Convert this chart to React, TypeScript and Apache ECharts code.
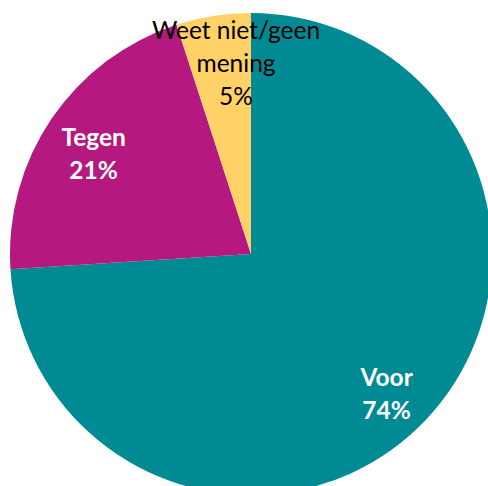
import React, { useEffect, useRef } from "react";
import * as echarts from "echarts";

const categories = ["Voor", "Tegen", "Weet niet/geen\nmening"];
const values = [74, 21, 5];
const colors = ["#008B94", "#B5197F", "#FFD166"];

export default function App() {
  const ref = useRef<HTMLDivElement>(null);
  useEffect(() => {
    if (!ref.current) return;
    const chart = echarts.init(ref.current, undefined, { renderer: "svg" });
    const data = categories.map((name, i) => ({
      name,
      value: values[i],
      itemStyle: { color: colors[i] },
    }));
    const labelData = categories.map((name, i) => ({
      name,
      value: values[i],
      label:
        i === 2
          ? { color: "#000000", fontWeight: "normal" as const }
          : { color: "#ffffff", fontWeight: "bold" as const },
    }));
    const offsets = [
      [-4, 8],
      [1, 7],
      [15, -2],
    ];
    chart.setOption({
      animation: false,
      series: [
        {
          type: "pie",
          center: [251, 254],
          radius: [0, 241],
          startAngle: 90,
          clockwise: true,
          silent: true,
          label: { show: false },
          labelLine: { show: false },
          itemStyle: { borderWidth: 0 },
          data,
        },
        {
          type: "pie",
          center: [251, 254],
          radius: [136, 241],
          startAngle: 90,
          clockwise: true,
          silent: true,
          itemStyle: { color: "rgba(0,0,0,0)", borderWidth: 0 },
          label: {
            show: true,
            position: "inside",
            fontFamily: "Lato, 'Open Sans', sans-serif",
            fontSize: 24.5,
            lineHeight: 33,
            formatter: (p: any) => `${p.name}\n${p.value}%`,
          },
          labelLayout: (p: any) => ({
            dx: offsets[p.dataIndex][0],
            dy: offsets[p.dataIndex][1],
          }),
          labelLine: { show: false },
          data: labelData,
        },
      ],
    });
    return () => chart.dispose();
  }, []);
  return (
    <div
      ref={ref}
      style={{ position: "fixed", left: 0, top: 0, width: 488, height: 486, background: "#ffffff" }}
    />
  );
}
